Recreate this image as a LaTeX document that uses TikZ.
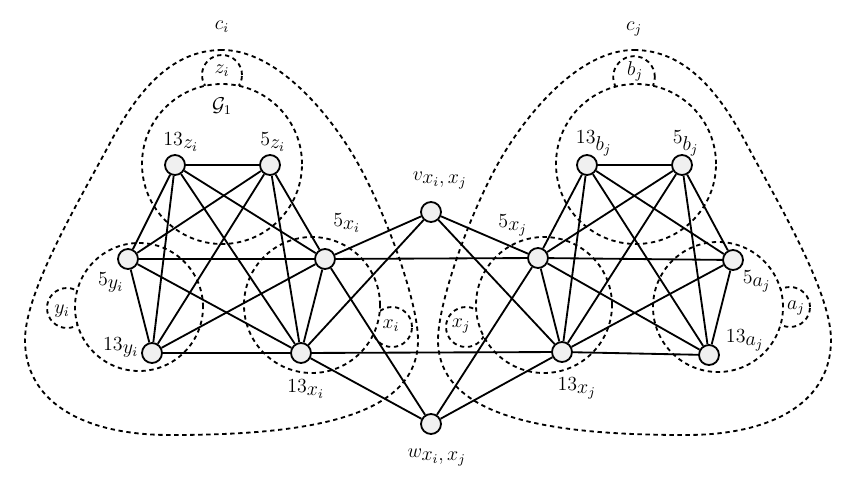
\documentclass[tikz,border=0pt]{standalone}
\begin{document}
\begin{tikzpicture}[x=0.6pt,y=-0.6pt,
  vtx/.style={circle, draw, fill=black!6, line width=1.1pt, minimum size=12pt, inner sep=0pt},
  link/.style={line width=1.1pt},
  dsh/.style={dash pattern=on 2.6pt off 2.2pt, line width=1.1pt, fill=white},
  lbl/.style={inner sep=0pt, font=\fontsize{12}{14}\selectfont}]
\useasboundingbox (0,0) rectangle (845,500);
% outer regions
\draw[dsh] (222,50) .. controls (172,50) and (138,90) .. (110,143)
  .. controls (82,196) and (25,290) .. (25,340)
  .. controls (25,400) and (80,435) .. (170,435)
  .. controls (300,435) and (418,420) .. (418,340)
  .. controls (418,300) and (382,201) .. (350,150)
  .. controls (318,99) and (270,50) .. (222,50) -- cycle;
\draw[dsh] (634,50) .. controls (684,50) and (718,90) .. (746,143)
  .. controls (774,196) and (831,290) .. (831,340)
  .. controls (831,400) and (776,435) .. (686,435)
  .. controls (556,435) and (438,420) .. (438,340)
  .. controls (438,300) and (474,201) .. (506,150)
  .. controls (538,99) and (586,50) .. (634,50) -- cycle;
% small circles
\draw[dsh] (222,75) circle[radius=12pt];
\draw[dsh] (67,308) circle[radius=12pt];
\draw[dsh] (392,327) circle[radius=12pt];
\draw[dsh] (634,77) circle[radius=12.5pt];
\draw[dsh] (790,307) circle[radius=12pt];
\draw[dsh] (466,327) circle[radius=12pt];
% big circles
\draw[dsh] (222,164) circle[radius=48pt];
\draw[dsh] (139,307) circle[radius=38.4pt];
\draw[dsh] (312,305) circle[radius=40.8pt];
\draw[dsh] (636,164) circle[radius=48pt];
\draw[dsh] (718,307) circle[radius=39pt];
\draw[dsh] (544,305) circle[radius=40.8pt];
% vertices
\node[vtx] (zi13) at (175,165) {};
\node[vtx] (zi5) at (270,165) {};
\node[vtx] (yi5) at (128,259) {};
\node[vtx] (yi13) at (152,353) {};
\node[vtx] (xi5) at (325,259) {};
\node[vtx] (xi13) at (301,353) {};
\node[vtx] (v) at (431,212) {};
\node[vtx] (w) at (431,424) {};
\node[vtx] (bj13) at (587,165) {};
\node[vtx] (bj5) at (682,165) {};
\node[vtx] (xj5) at (538,258) {};
\node[vtx] (xj13) at (562,352) {};
\node[vtx] (aj5) at (733,260) {};
\node[vtx] (aj13) at (709,355) {};
% edges
\foreach \a/\b in {zi13/zi5, zi13/yi5, zi13/yi13, zi13/xi5, zi13/xi13,
  zi5/yi5, zi5/yi13, zi5/xi5, zi5/xi13, yi5/yi13, yi5/xi5, yi5/xi13,
  yi13/xi5, yi13/xi13, xi5/xi13,
  bj13/bj5, bj13/xj5, bj13/xj13, bj13/aj5, bj13/aj13,
  bj5/xj5, bj5/xj13, bj5/aj5, bj5/aj13, xj5/xj13, xj5/aj5, xj5/aj13,
  xj13/aj5, xj13/aj13, aj5/aj13,
  xi5/xj5, xi13/xj13, v/xi5, v/xi13, v/xj5, v/xj13, w/xi5, w/xi13, w/xj5, w/xj13}
  \draw[link] (\a) -- (\b);
% labels
\node[lbl] (lci) at (222,27) {$c_i$};
\node[lbl] (lcj) at (634,29) {$c_j$};
\node[lbl] (lzi) at (222,71) {$z_i$};
\node[lbl] (lbj) at (635,71) {$b_j$};
\node[lbl] (lG) at (222,106) {$\mathcal{G}_1$};
\node[lbl] (l13zi) at (181,142) {$13_{\textstyle z_i}$};
\node[lbl] (l5zi) at (273,142) {$5_{\textstyle z_i}$};
\node[lbl] (l5yi) at (111,282) {$5_{\textstyle y_i}$};
\node[lbl] (l13yi) at (121,347) {$13_{\textstyle y_i}$};
\node[lbl] (l5xi) at (347,223) {$5_{\textstyle x_i}$};
\node[lbl] (l13xi) at (306,389) {$13_{\textstyle x_i}$};
\node[lbl] (lyi) at (62,311) {$y_i$};
\node[lbl] (lxi) at (391,326) {$x_i$};
\node[lbl] (lv) at (440,180) {$v_{\textstyle x_i,x_j}$};
\node[lbl] (lw) at (437,457) {$w_{\textstyle x_i,x_j}$};
\node[lbl] (l13bj) at (594,143) {$13_{\textstyle b_j}$};
\node[lbl] (l5bj) at (686,143) {$5_{\textstyle b_j}$};
\node[lbl] (l5xj) at (513,225) {$5_{\textstyle x_j}$};
\node[lbl] (l13xj) at (577,388) {$13_{\textstyle x_j}$};
\node[lbl] (l5aj) at (757,281) {$5_{\textstyle a_j}$};
\node[lbl] (l13aj) at (745,340) {$13_{\textstyle a_j}$};
\node[lbl] (lxj) at (461,326) {$x_j$};
\node[lbl] (laj) at (796,308) {$a_j$};
\end{tikzpicture}
\end{document}
